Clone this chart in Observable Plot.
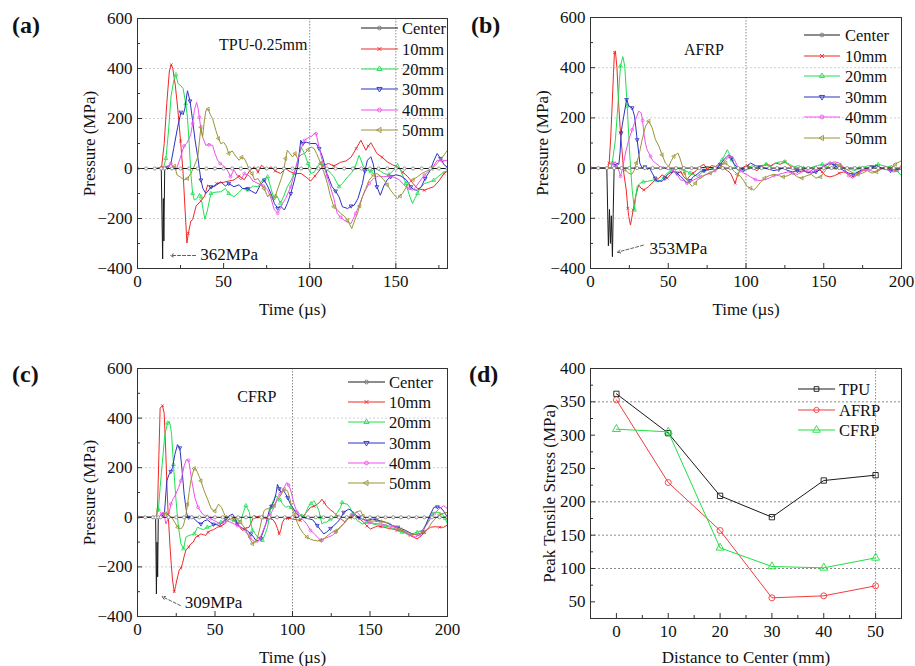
<!DOCTYPE html>
<html><head><meta charset="utf-8">
<script src="https://cdn.jsdelivr.net/npm/d3@7"></script>
<script src="https://cdn.jsdelivr.net/npm/@observablehq/plot@0.6"></script>
<style>
body{margin:0;background:#fff;}
#page{position:relative;width:915px;height:666px;overflow:hidden;background:#fff;font-family:'Liberation Serif',serif;}
.panel{position:absolute;}
</style></head><body><div id="page"></div>
<script>
// ---------- DATA ----------
const seriesNames = ["Center","10mm","20mm","30mm","40mm","50mm"];
const waveTicksX = [0,50,100,150,200];
const waveMinorX = [25,75,125,175];
const waveTicksY = [-400,-200,0,200,400,600];
const waveMinorY = [-300,-100,100,300,500];

// (a) TPU-0.25mm : [time µs, pressure MPa]
const aCenter = [[0,0],[5,0],[10,0],[13.8,0],[14.6,-362],[15,-120],[15.3,-290],[15.8,0],[20,0],[25,0],[30,0],[35,0],[40,0],[45,0],[50,0],[55,0],[60,0],[65,0],[70,0],[75,0],[80,0],[85,0],[90,0],[95,0],[100,0],[105,0],[110,0],[115,0],[120,0],[125,0],[130,0],[135,0],[140,0],[145,0],[150,0],[155,0],[160,0],[165,0],[170,0],[175,0],[180,0]];
const a10 = [[0,0],[10,0],[14,5],[15.5,100],[17,260],[18.5,390],[19.6,415],[20.5,400],[22,330],[23.5,230],[25,110],[26.5,-20],[27.5,-150],[28.7,-298],[29.5,-260],[31,-210],[32,-205],[34,-150],[36.8,-130],[39,-110],[40.7,-66],[43,-80],[46,-60],[50,-55],[53,-50],[56,-46],[59,-30],[62,-45],[65,-10],[67.8,7],[70,-15],[72,13],[75,-5],[77.5,7],[80,-10],[83,-20],[86,0],[88,-10],[91,-20],[95,-20],[98,-35],[100.6,-50],[103,-30],[106,-5],[108,13],[111,20],[114,10],[118,25],[121,30],[124,45],[127,80],[129.7,113],[131,95],[132.6,73],[134,90],[135.5,103],[137,85],[139,60],[142,45],[145,27],[148,15],[151,7],[154,-15],[157,-33],[160,-60],[162.6,-80],[166.5,-87],[169,-80],[172,-73],[175,-50],[178,-20],[180,-10]];
const a20 = [[0,0],[15,0],[16.5,40],[18,150],[19.5,290],[21,350],[22.3,375],[23.5,340],[25.2,331],[26.5,320],[28,260],[29,205],[30,100],[31,-20],[32,-100],[33,-126],[34.5,-120],[36,-100],[36.8,-113],[38,-160],[39.1,-203],[40.5,-170],[42.6,-100],[45,-95],[48.4,-93],[51,-80],[53,-100],[56,-113],[59,-95],[61,-80],[64,-86],[67,-70],[70,-73],[72,-50],[75.6,-33],[77.5,-80],[79.5,-126],[81,-110],[83,-139],[85,-110],[87,-73],[89,-50],[91,-20],[93,30],[95,86],[97,60],[99,20],[100.6,-20],[102.7,-15],[104.5,10],[106.6,20],[109,0],[111,-10],[114,-33],[117,-73],[119,-60],[122,-33],[124,-20],[126,0],[128.7,53],[131,10],[133,-5],[135.5,-13],[138,0],[141,-10],[143,-20],[146,-25],[149,-5],[151,20],[153,-10],[155.8,-60],[158,-110],[159.7,-140],[161,-120],[162.6,-100],[164,-80],[166.5,-60],[169,-55],[172,-47],[175,-30],[178,-13],[180,-10]];
const a30 = [[0,0],[16,0],[17.4,5],[19.4,20],[21,80],[23.3,165],[25.2,225],[26.5,215],[27.5,240],[29,311],[30.5,270],[32,192],[33.5,110],[35,46],[36.8,-46],[38,-80],[39.7,-100],[41,-90],[42.6,-73],[45,-70],[48.4,-53],[51,-70],[53,-60],[56,-73],[59,-65],[61,-80],[64,-80],[66,-90],[68.8,-100],[71,-70],[73.6,-46],[75.5,-70],[77.5,-100],[79.5,-140],[81.4,-159],[83,-150],[85.3,-166],[87,-140],[89,-100],[91,-50],[93,7],[94.8,113],[96,100],[98,105],[100.6,100],[103.7,100],[105.5,80],[107.4,47],[110,-20],[113,-73],[115,-90],[117,-113],[119,-153],[122,-160],[124,-150],[125.8,-147],[128,-120],[130.6,-60],[132,-10],[133.5,33],[135.5,47],[137,15],[139,-73],[141,-107],[143,-70],[145,-45],[147,-33],[150,-25],[153,-30],[156,-45],[158.7,-73],[160.5,-85],[162.6,-87],[165,-70],[167,-40],[170,-7],[172,30],[174,60],[176,40],[178,15],[180,5]];
const a40 = [[0,0],[17,0],[19.4,20],[21,0],[22.5,-5],[25,46],[27,90],[28.5,100],[30,120],[31,139],[32,180],[33,232],[34.3,265],[35.2,240],[35.9,205],[36.8,160],[37.8,126],[39.7,93],[41.5,95],[43.6,93],[45,60],[46.5,33],[48,20],[49.4,13],[51,5],[52.5,-10],[54,-33],[56,-5],[58,-30],[60,-46],[62,-20],[65,-30],[67,-50],[70,-60],[73,-70],[75.6,-86],[77.5,-120],[79.5,-166],[81.4,-179],[83,-160],[84.3,-139],[86,-120],[89,-73],[91,-20],[93,33],[95,80],[97,113],[99.8,126],[101.5,130],[102.5,140],[103.7,139],[105.4,87],[106.6,50],[108.3,7],[110,-30],[112,-73],[114,-120],[116,-180],[118,-195],[120,-207],[122,-215],[124,-220],[126.7,-180],[128.5,-150],[130.6,-113],[132.5,-85],[134.5,-60],[137,-40],[140,-30],[143,-33],[146,-30],[149,-35],[152,-45],[155.8,-73],[157.5,-80],[159.7,-87],[162,-70],[164,-50],[166.5,-27],[169,-10],[171,0],[174,33],[177,30],[180,33]];
const a50 = [[0,0],[20,0],[21.5,10],[23,-26],[25,-35],[27,-46],[29,-40],[31,-20],[33,10],[35,46],[36.8,165],[37.8,126],[38.8,190],[39.7,232],[41,238],[42.3,215],[43.6,199],[45.5,152],[47,120],[48.4,99],[50,105],[51.5,90],[53,60],[55,70],[57,50],[59,33],[60.5,45],[62,40],[63.5,20],[65,-7],[66.5,-20],[68,-46],[70,-40],[71.7,-60],[73.5,-80],[75.6,-113],[77,-100],[78.5,-126],[80,-110],[82,-70],[83.5,-40],[85,-7],[86,40],[87,73],[88.5,60],[90,46],[91.5,60],[93,40],[95,55],[97,60],[99,75],[100.8,86],[102.5,80],[104,60],[106.4,20],[108,-10],[110.3,-60],[112,-110],[114,-153],[116,-165],[118,-180],[120,-190],[122,-207],[124.4,-240],[126,-210],[127.7,-180],[129,-150],[130.6,-113],[132.5,-80],[134.5,-47],[137,-25],[139,-20],[141,-30],[143,-45],[145,-65],[147,-87],[149,-105],[151,-120],[152.5,-110],[153.9,-100],[156,-75],[158,-55],[160,-45],[162.6,-33],[165,-20],[168,-10],[171,0],[174,20],[177,45],[180,73]];

// (b) AFRP
const bCenter = [[0,0],[5,0],[10.5,0],[11.5,-310],[12.2,-165],[12.8,-300],[13.4,-190],[14.1,-353],[14.6,-180],[15.2,0],[20,0],[25,0],[30,0],[35,0],[40,0],[45,0],[50,0],[55,0],[60,0],[65,0],[70,0],[75,5],[80,0],[85,0],[90,0],[95,0],[100,0],[105,0],[110,0],[115,0],[120,0],[125,0],[130,0],[135,0],[140,0],[145,0],[150,0],[155,0],[160,0],[165,0],[170,0],[175,0],[180,0],[185,0],[190,0],[195,0],[200,0]];
const b10 = [[0,0],[11,0],[12,20],[13,120],[13.9,247],[14.8,380],[15.4,460],[16,467],[17,400],[18.2,247],[19.3,140],[20.4,60],[21.4,-20],[23,-87],[24,-160],[24.6,-193],[25.7,-227],[26.5,-200],[27.4,-167],[29,-113],[31,-67],[32.5,-80],[34.3,-87],[36,-80],[37.5,-73],[39.5,-60],[41.8,-47],[44,-40],[46,-27],[48,-35],[49.3,-40],[51.5,-25],[53.6,-13],[56,-20],[58,-15],[60,-35],[62,-47],[64,-30],[66,-20],[68,-10],[70.7,7],[73,15],[75,-5],[78,10],[81,5],[83,15],[85.7,0],[88,-10],[90,-20],[91.5,-40],[93,-60],[94.5,-30],[96,-10],[98.6,5],[101,10],[104,0],[107,-10],[110,5],[113,15],[116,10],[119,20],[122,15],[125,25],[128,10],[131,-5],[134,-15],[137,-10],[140,-20],[143,-5],[146,0],[149,-15],[151,-30],[154,-35],[157,-30],[160,-20],[163,-15],[166,-25],[169,-35],[172,-20],[175,-10],[178,-5],[181,0],[184,10],[187,0],[190,-5],[193,5],[196,-10],[200,0]];
const b20 = [[0,0],[13,0],[14,20],[16,113],[17.6,247],[18.5,340],[19.3,407],[20.8,444],[22,407],[22.8,330],[23.6,247],[24.5,140],[25.3,47],[26.8,-87],[28.3,-167],[29,-120],[30,-73],[32,-60],[34,-55],[36.4,-53],[38.5,-50],[40.7,-47],[43,-50],[45,-53],[47,-35],[49.3,-20],[52,-10],[55.7,0],[58,-5],[61,-10],[64,-20],[66,-25],[68.6,-33],[71,-20],[73,-10],[76,-5],[79,0],[82,15],[84.7,33],[86.5,55],[88,73],[89.5,55],[91,33],[93,5],[95,-10],[98.6,-13],[101,0],[104,10],[107,0],[110,10],[113,15],[116,5],[119,20],[122,25],[125,25],[128,15],[131,5],[134,10],[137,0],[140,-5],[143,5],[146,10],[149,15],[152,5],[155,0],[158,-5],[161,10],[164,0],[167,-5],[170,-10],[173,0],[176,5],[179,10],[182,5],[185,15],[188,10],[191,5],[194,10],[197,-10],[200,-30]];
const b30 = [[0,0],[15,0],[16,10],[17,20],[18.2,15],[19,60],[19.7,140],[20.5,175],[21.4,207],[22.3,240],[23.2,273],[24,260],[24.6,247],[25.7,245],[26.8,240],[27.5,225],[28.3,207],[29.2,160],[30,113],[31,60],[31.7,20],[33.2,0],[35,5],[36.5,-5],[38,0],[39.7,-20],[41.5,-40],[42.9,-53],[44.5,-50],[46,-53],[47.8,-40],[49.3,-27],[51,-20],[53.6,-13],[55.5,-20],[57.9,-33],[60,-45],[62,-60],[64,-50],[66.4,-33],[68.5,-25],[70.7,-13],[73,-10],[75,-7],[78,-5],[81.4,0],[83.5,15],[85.7,33],[87.5,45],[89,53],[90.5,40],[92,20],[94,5],[96.5,-7],[98.5,-5],[100.7,7],[103,20],[106,10],[109,5],[112,0],[115,-5],[118,-10],[121,-5],[124,0],[127,-10],[130,-15],[133,-10],[136,-5],[139,-15],[142,-20],[145,-15],[148,-5],[151,10],[154,20],[157,10],[160,0],[163,-10],[166,-20],[169,-25],[172,-15],[175,-5],[178,0],[181,5],[184,10],[187,0],[190,-5],[193,-10],[196,-5],[200,-5]];
const b40 = [[0,0],[13,0],[14.5,20],[16,25],[17.5,5],[18.5,-15],[19.3,-33],[20.5,-5],[22.5,60],[24.6,113],[26.8,153],[29,193],[31,227],[32.6,220],[33.5,190],[34.3,140],[35.3,100],[36.4,73],[38.6,47],[40,30],[41.8,20],[44,10],[45,0],[47,5],[49.3,-5],[51.5,-5],[53.6,-10],[55.7,-25],[57.9,-47],[60,-50],[62,-60],[64,-55],[66.4,-47],[68.5,-40],[70.7,-33],[72.8,-30],[75,-25],[77.2,-20],[80,-10],[83.6,5],[86,25],[88,40],[89.5,45],[91,47],[92.5,35],[94.3,10],[96.5,-10],[98.6,-20],[100.7,-27],[103,-35],[106,-46],[109,-50],[112,-46],[115,-40],[118,-30],[121,-25],[124,-20],[127,-15],[130,-20],[133,-25],[136,-15],[139,-10],[142,-15],[145,-10],[148,0],[151,15],[154,20],[157,25],[160,20],[163,0],[166,-30],[168.5,-40],[171,-30],[174,-15],[177,-5],[180,-10],[183,-15],[186,-5],[189,0],[192,-10],[195,-15],[198,-10],[200,5]];
const b50 = [[0,0],[20,0],[22,-5],[24.6,-20],[26.5,-25],[28,-10],[29.5,20],[31,47],[33.2,113],[35.4,167],[37.5,187],[39.7,160],[41.8,113],[44,87],[46,53],[48.2,20],[50.4,7],[52,30],[53.6,47],[56.2,60],[57.5,40],[59,10],[60.5,-20],[62,-47],[63.5,-60],[65.4,-73],[67.5,-60],[69,-45],[71,-40],[74,-25],[77,-20],[80,-10],[82.5,0],[84.7,13],[87,20],[88.5,10],[90.5,0],[92.5,-13],[94.5,-25],[96.5,-33],[98.5,-50],[100.7,-73],[103,-80],[105,-87],[107,-75],[109.5,-55],[112,-40],[115,-30],[118,-25],[121,-30],[124,-35],[127,-30],[130,-20],[133,-35],[136,-40],[139,-30],[142,-25],[145,-40],[148,-35],[151,-10],[154,15],[157,20],[160,10],[163,0],[166,-10],[169,-20],[172,-25],[175,-20],[178,-10],[181,-20],[184,-15],[187,-5],[190,5],[193,0],[196,15],[200,30]];

// (c) CFRP
const cCenter = [[0,0],[5,0],[10,0],[11.7,0],[12.2,-309],[12.6,-100],[13,-240],[13.4,0],[15,0],[20,0],[25,0],[30,0],[35,0],[40,0],[45,0],[50,0],[55,0],[60,0],[65,0],[70,0],[75,0],[80,0],[85,0],[90,0],[95,0],[100,0],[105,0],[110,0],[115,0],[120,0],[125,0],[130,0],[135,0],[140,0],[145,0],[150,0],[155,0],[160,0],[165,0],[170,0],[175,0],[180,0],[185,0],[190,0],[195,0],[200,0]];
const c10 = [[0,0],[12,0],[12.9,30],[13.8,250],[14.6,440],[15.3,445],[16.1,450],[17.2,420],[18.3,253],[19.1,110],[19.8,13],[21,-120],[21.8,-190],[22.6,-253],[23.7,-300],[24.5,-280],[25.4,-253],[26.9,-213],[28,-205],[29,-187],[30,-160],[31.2,-133],[33,-120],[34.4,-107],[36,-100],[37.6,-80],[39,-75],[40.9,-67],[42.5,-70],[44,-73],[45.5,-60],[47.3,-53],[49,-50],[51.6,-40],[54,-35],[56,-27],[58,-15],[60.2,0],[62,-10],[64.5,-27],[66,-40],[67.7,-53],[69.5,-45],[72,-40],[73.5,-20],[75.3,7],[77,0],[78.5,5],[80.5,0],[83,-5],[86,-5],[87.5,-10],[89.2,-27],[90.3,-45],[91.4,-67],[92.5,-50],[93.5,-20],[95,-5],[96.8,-5],[99,-5],[101,-8],[103,-10],[105,-13],[107,5],[109,20],[111.6,40],[114,45],[116,53],[117.5,60],[119,73],[120.5,60],[122,45],[124.5,30],[126.7,20],[129,5],[131,-5],[134,-20],[137.4,7],[139.5,5],[141.7,0],[144,-10],[146,-20],[148,-35],[150.3,-47],[153,-40],[155,-35],[157,-38],[159,-40],[162,-45],[165,-48],[167.5,-53],[170,-55],[172,-60],[174,-65],[176,-73],[178,-80],[180.4,-87],[183,-75],[185,-60],[187,-50],[189,-40],[192,-38],[195,-40],[197.6,-40],[200,-30]];
const c20 = [[0,0],[12,0],[13.5,30],[14.6,120],[16.1,227],[17.6,333],[19.4,380],[20.4,387],[21.2,370],[22,333],[23.2,213],[24.7,80],[26.2,-27],[28,-107],[29.7,-127],[31.2,-80],[33.3,-73],[35,-70],[36.6,-67],[38.7,-40],[40.5,-45],[42.5,-50],[45,-40],[47.5,-35],[50,-30],[51.8,-25],[53.8,-20],[56,-15],[58,-7],[60,-10],[62.5,-13],[64.5,-15],[66.7,-13],[68.3,20],[69.9,47],[71,35],[72.2,20],[73,-20],[74.2,-53],[75.8,-65],[77.4,-80],[79,-85],[80.6,-93],[82.2,-70],[83.9,-40],[85,0],[86,40],[87.5,65],[89.2,87],[90.5,80],[92,70],[93.5,55],[95.7,40],[97.5,45],[99,40],[100.5,30],[102.5,25],[104.5,15],[106,5],[107.5,0],[109,25],[110.5,47],[112,55],[113.8,67],[115.5,50],[117,27],[118,0],[119,-27],[120.5,-20],[122,-20],[124.5,-7],[127,0],[129,20],[131,40],[132,60],[134,55],[135.3,53],[137,40],[139,15],[141.7,-13],[143.5,-20],[145,-27],[148,-20],[151,-25],[154,-30],[157.8,-33],[160,-35],[162.5,-40],[166.4,-47],[168.5,-55],[170.7,-60],[173,-65],[175,-73],[178,-65],[180.5,-60],[183.6,-53],[186,-30],[188,-10],[190,13],[192,20],[194.5,20],[197,10],[198.5,-5],[200,-27]];
const c30 = [[0,0],[15,0],[16.5,10],[17.5,25],[18.9,147],[20.4,173],[21.5,185],[22.6,200],[24.1,253],[25.8,293],[27.3,280],[28.6,200],[30.1,93],[31.8,13],[33,0],[35,5],[37.6,-13],[39,-20],[40.9,-27],[43,-15],[45,-10],[47,-20],[49,-28],[51,-30],[52.7,-33],[55,-20],[57,-5],[59,5],[61.3,13],[63,-5],[64.5,-27],[66.5,-40],[68.8,-47],[71,-55],[73.1,-67],[75,-80],[76.3,-93],[78,-95],[79.5,-85],[81,-60],[82.8,-27],[85,27],[86.5,45],[88.2,67],[89.5,100],[90.3,133],[91.5,115],[92.5,100],[94,110],[95.5,95],[96.8,80],[98.5,55],[100.8,33],[102.5,15],[105,0],[107.5,-2],[110,-5],[113,-10],[116,-33],[118,-50],[120.2,-67],[122,-60],[124.5,-45],[126.7,-33],[129,-20],[131,-5],[133,20],[136.3,33],[138,27],[140.5,10],[142.8,0],[145,-7],[148,-13],[151.4,-7],[154,-10],[157,-15],[160,-20],[164.3,-33],[168,-40],[173,-53],[177.2,-67],[181.5,-73],[184,-60],[186,-30],[188,0],[191.2,40],[193.5,42],[195.5,40],[197.5,25],[200,0]];
const c40 = [[0,0],[14,0],[15.5,15],[17,20],[18.3,-27],[19.5,-10],[21.5,53],[23,75],[24.7,93],[26.5,120],[28,147],[29,175],[30.1,207],[31.6,233],[33,230],[34,190],[35,147],[37,80],[39.1,40],[41.9,13],[44,5],[45,10],[47,-5],[49.4,-13],[51.5,-20],[53.8,-27],[56,-20],[58,-15],[60,-20],[62.4,-27],[64.5,-33],[66.7,-40],[69,-55],[71,-67],[72.5,-80],[74.2,-93],[75.8,-98],[77.4,-100],[79,-85],[80.6,-60],[82.2,-35],[83.9,-13],[85.5,10],[87.1,27],[88.7,50],[90.3,80],[92,95],[93.5,107],[95,125],[96.3,140],[97.5,130],[98.8,110],[100,80],[101,53],[103,20],[105,0],[107.3,-13],[109.5,-30],[111.6,-53],[114,-65],[116,-80],[117.5,-88],[119,-93],[121,-85],[123,-80],[125.6,-73],[128,-60],[131,-40],[133,-25],[135.3,-7],[138,10],[141.7,20],[144,5],[146.5,-13],[150,-20],[153,-25],[157,-27],[161,-33],[166.4,-40],[170.5,-53],[175,-67],[179.3,-80],[182,-70],[184,-55],[186.9,-27],[189.5,0],[191.5,15],[194.4,33],[197.6,47],[200,35]];
const c50 = [[0,0],[16,0],[18,15],[20,10],[22,0],[24,-20],[26,-40],[28,-47],[29.5,-35],[31,0],[32.3,53],[33.3,100],[34.4,147],[35.5,175],[36.6,197],[37.7,195],[38.7,180],[39.8,165],[40.9,147],[43,107],[45.2,73],[47.7,33],[49.9,25],[52.3,53],[54.2,40],[55.5,20],[57,0],[60,0],[62,-5],[64.5,-7],[66.5,-20],[68.8,-40],[70.5,-60],[72,-80],[74.2,-107],[76.3,-100],[77.5,-80],[79.1,-40],[80.5,0],[81.7,27],[83.5,35],[85.5,33],[88.2,47],[89.8,65],[91.4,80],[93,95],[94.6,113],[96.8,107],[98.5,70],[100,30],[101.5,10],[103,-20],[105,-47],[107,-65],[109.4,-80],[111.5,-88],[113.8,-93],[116,-95],[118,-93],[120.5,-85],[123,-72],[125.6,-60],[128,-55],[130.5,-40],[133,-27],[135,-10],[137.4,0],[139,10],[140.6,20],[143.9,27],[145.5,5],[148,-10],[151,-15],[154,-15],[157,-18],[160,-20],[163,-25],[166,-40],[170,-50],[174,-60],[178,-70],[181,-67],[185,-60],[188,-40],[190,-20],[193,0],[195,10],[198,18],[200,20]];

// (d) peak tensile stress vs distance
const distance = [0,10,20,30,40,50];
const tpuPeak  = [362,303,209,177,232,240];
const afrpPeak = [353,229,157,56,59,74];
const cfrpPeak = [309,305,131,103,101,116];
const dTicksX = [0,10,20,30,40,50];
const dMinorX = [5,15,25,35,45];
const dTicksY = [50,100,150,200,250,300,350,400];
const dMinorY = [75,125,175,225,275,325,375];

// ---------- STYLE ----------
const colors = {"Center":"#1a1a1a","10mm":"#f02828","20mm":"#1ee050","30mm":"#2a32c8","40mm":"#f050ec","50mm":"#9a9438"};
const symbols = {"Center":["circle",0],"10mm":["times",0],"20mm":["triangle",0],"30mm":["triangle",180],"40mm":["circle",0],"50mm":["triangle",270]};
const FONT = "'Liberation Serif', 'Times New Roman', serif";
const page = document.getElementById("page");

function wavePanel(o) {
  const marks = [];
  marks.push(Plot.gridY(o.hGrid, {stroke:"#d2d2d2", strokeOpacity:1, strokeDasharray:"2,2"}));
  marks.push(Plot.gridX(o.vGrid, {stroke:"#8a8a8a", strokeOpacity:1, strokeDasharray:"1.5,1.5"}));
  const order = ["10mm","20mm","30mm","40mm","50mm","Center"];
  for (const name of order) {
    const rows = o.data[name].map(([t,p]) => ({t, p}));
    marks.push(Plot.line(rows, {x:"t", y:"p", stroke:colors[name], strokeWidth:1, clip:true}));
    const [sym, rot] = symbols[name];
    if (name === "Center") {
      marks.push(Plot.dot(rows, {filter: d => d.p === 0, x:"t", y:"p", r:1.6, stroke:"#808080", strokeWidth:0.8, fill:"white", clip:true}));
    } else {
      marks.push(Plot.dot(rows, {filter: (d,i) => i % 4 === 2, x:"t", y:"p", symbol:sym, rotate:rot, r:1.4, stroke:colors[name], strokeWidth:0.8, fill:"none", clip:true}));
    }
  }
  marks.push(Plot.text([o.title], {x:"x", y:"y", text:"label", fontSize:16, fill:"#111"}));
  marks.push(Plot.arrow([o.anno], {x1:"x1", y1:"y1", x2:"x2", y2:"y2", stroke:"#333", strokeWidth:0.8, strokeDasharray:"3,2", headLength:6}));
  marks.push(Plot.text([o.anno], {x:"tx", y:"ty", text:"label", textAnchor:"start", fontSize:17, fill:"#111"}));
  marks.push(Plot.frame({stroke:"#333", strokeWidth:1}));
  marks.push(Plot.axisY(waveTicksY, {tickSize:0, tickPadding:5, fontSize:17, label:"Pressure (MPa)", labelAnchor:"center", labelOffset:o.yLabelOffset, labelArrow:false}));
  marks.push(Plot.axisY(waveTicksY, {tickSize:-5, fill:"none", stroke:"#333"}));
  marks.push(Plot.axisY(waveMinorY, {tickSize:-3, fill:"none", stroke:"#333"}));
  marks.push(Plot.axisX(o.xTicks, {tickSize:0, tickPadding:6, fontSize:17, label:"Time (µs)", labelAnchor:"center", labelOffset:o.xLabelOffset, labelArrow:false}));
  marks.push(Plot.axisX(o.xTicks, {tickSize:-5, fill:"none", stroke:"#333"}));
  marks.push(Plot.axisX(waveMinorX, {tickSize:-3, fill:"none", stroke:"#333"}));
  const svg = Plot.plot({
    width:o.width, height:o.height,
    marginLeft:o.m[0], marginTop:o.m[1], marginRight:o.m[2], marginBottom:o.m[3],
    x:{domain:o.xDomain}, y:{domain:[-400,600]},
    style:{fontFamily:FONT, fontSize:"17px", color:"#111", background:"transparent", overflow:"visible"},
    marks
  });
  const div = document.createElement("div");
  div.className = "panel";
  div.style.left = o.left + "px"; div.style.top = o.top + "px";
  div.appendChild(svg);
  page.appendChild(div);
}

wavePanel({
  data:{"Center":aCenter,"10mm":a10,"20mm":a20,"30mm":a30,"40mm":a40,"50mm":a50},
  left:0, top:0, width:455, height:320, m:[137,18,8,52], xDomain:[0,180],
  xTicks:[0,50,100,150], hGrid:[-200,200,400], vGrid:[100,150],
  title:{x:73, y:496, label:"TPU-0.25mm"},
  anno:{x1:33.7, y1:-348, x2:19.2, y2:-348, tx:36.5, ty:-345, label:"362MPa"},
  yLabelOffset:55, xLabelOffset:46
});
wavePanel({
  data:{"Center":bCenter,"10mm":b10,"20mm":b20,"30mm":b30,"40mm":b40,"50mm":b50},
  left:455, top:0, width:460, height:320, m:[135,17,14,52], xDomain:[0,200],
  xTicks:waveTicksX, hGrid:[-200,200,400], vGrid:[100],
  title:{x:73, y:473, label:"AFRP"},
  anno:{x1:34, y1:-307, x2:17.4, y2:-335, tx:38, ty:-320, label:"353MPa"},
  yLabelOffset:55, xLabelOffset:46
});
wavePanel({
  data:{"Center":cCenter,"10mm":c10,"20mm":c20,"30mm":c30,"40mm":c40,"50mm":c50},
  left:0, top:320, width:455, height:346, m:[137,48,8,50], xDomain:[0,200],
  xTicks:waveTicksX, hGrid:[-200,200,400], vGrid:[100],
  title:{x:77, y:486, label:"CFRP"},
  anno:{x1:27.7, y1:-356, x2:16, y2:-320, tx:30.5, ty:-345, label:"309MPa"},
  yLabelOffset:55, xLabelOffset:46
});

// (d)
(function(){
  const dSeries = [
    {name:"TPU", vals:tpuPeak, color:"#1a1a1a", sym:"square", rot:0},
    {name:"AFRP", vals:afrpPeak, color:"#f03c3c", sym:"circle", rot:0},
    {name:"CFRP", vals:cfrpPeak, color:"#1ee040", sym:"triangle", rot:0}
  ];
  const marks = [];
  marks.push(Plot.gridY([100,150,200,350], {stroke:"#8a8a8a", strokeOpacity:1, strokeDasharray:"2,2"}));
  marks.push(Plot.gridX([50], {stroke:"#8a8a8a", strokeOpacity:1, strokeDasharray:"1.5,1.5"}));
  for (const s of dSeries) {
    const rows = distance.map((d,i) => ({d, v:s.vals[i]}));
    marks.push(Plot.line(rows, {x:"d", y:"v", stroke:s.color, strokeWidth:1}));
    marks.push(Plot.dot(rows, {x:"d", y:"v", symbol:s.sym, rotate:s.rot, r:3, stroke:s.color, strokeWidth:0.9, fill:"none"}));
  }
  marks.push(Plot.frame({stroke:"#333", strokeWidth:1}));
  marks.push(Plot.axisY(dTicksY, {tickSize:0, tickPadding:5, fontSize:17, label:"Peak Tensile Stress (MPa)", labelAnchor:"center", labelOffset:48, labelArrow:false}));
  marks.push(Plot.axisY(dTicksY, {tickSize:-5, fill:"none", stroke:"#333"}));
  marks.push(Plot.axisY(dMinorY, {tickSize:-3, fill:"none", stroke:"#333"}));
  marks.push(Plot.axisX(dTicksX, {tickSize:0, tickPadding:6, fontSize:17, label:"Distance to Center (mm)", labelAnchor:"center", labelOffset:44, labelArrow:false}));
  marks.push(Plot.axisX(dTicksX, {tickSize:-5, fill:"none", stroke:"#333"}));
  marks.push(Plot.axisX(dMinorX, {tickSize:-3, fill:"none", stroke:"#333"}));
  const svg = Plot.plot({
    width:460, height:346, marginLeft:135, marginTop:48, marginRight:14, marginBottom:48,
    x:{domain:[-5,55]}, y:{domain:[25,400]},
    style:{fontFamily:FONT, fontSize:"17px", color:"#111", background:"transparent", overflow:"visible"},
    marks
  });
  const div = document.createElement("div");
  div.className = "panel"; div.style.left = "455px"; div.style.top = "320px";
  div.appendChild(svg); page.appendChild(div);
})();

// ---------- LEGENDS & PANEL LABELS (overlay) ----------
const ov = d3.select(page).append("svg").attr("width",915).attr("height",666)
  .style("position","absolute").style("left","0px").style("top","0px").style("pointer-events","none")
  .style("font-family", FONT);
const d3sym = {circle:d3.symbolCircle, times:d3.symbolX, triangle:d3.symbolTriangle, square:d3.symbolSquare};
function legend(x1, x2, tx, ys, items) {
  items.forEach((it, i) => {
    const y = ys[i];
    ov.append("line").attr("x1",x1).attr("x2",x2).attr("y1",y).attr("y2",y).attr("stroke",it.color).attr("stroke-width",1.1);
    ov.append("path").attr("d", d3.symbol(d3sym[it.sym], it.size || 12)())
      .attr("transform", `translate(${(x1+x2)/2},${y}) rotate(${it.rot||0})`)
      .attr("stroke", it.mcolor || it.color).attr("stroke-width",0.9).attr("fill", it.fill || "none");
    ov.append("text").attr("x",tx).attr("y",y+5.5).attr("font-size",16.5).attr("fill","#111").text(it.label);
  });
}
const waveItems = seriesNames.map(n => ({label:n, color:colors[n], sym:symbols[n][0], rot:symbols[n][1], mcolor: n==="Center" ? "#808080" : undefined}));
legend(361, 398, 402, [28,49,69,89,110,130], waveItems);
legend(804, 840, 845, [35,56,76,97,117,138], waveItems);
legend(348, 385, 389, [382,402,422,443,463,483], waveItems);
legend(798, 835, 839, [389,410,430], [
  {label:"TPU", color:"#1a1a1a", sym:"square", size:22},
  {label:"AFRP", color:"#f03c3c", sym:"circle", size:22},
  {label:"CFRP", color:"#1ee040", sym:"triangle", size:26}
]);
const panelLabels = [["(a)",12,33],["(b)",471,33],["(c)",12,382],["(d)",469,382]];
for (const [t,x,y] of panelLabels) {
  ov.append("text").attr("x",x).attr("y",y).attr("font-size",24).attr("font-weight","bold").attr("fill","#111").text(t);
}
</script></body></html>
